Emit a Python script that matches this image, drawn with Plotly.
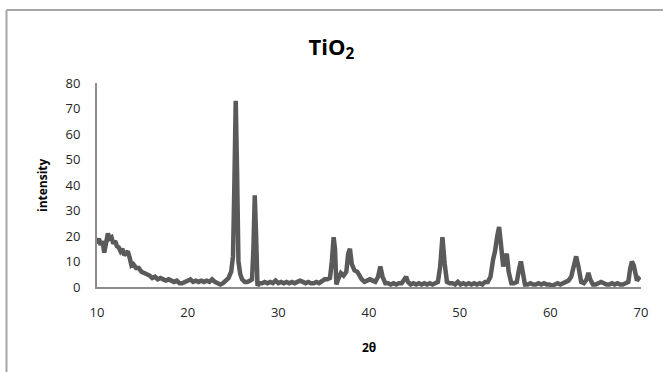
import plotly.graph_objects as go

two_theta = [10.0, 10.2, 10.4, 10.6, 10.8, 11.0, 11.2, 11.4, 11.6, 11.8, 12.0, 12.2, 12.4, 12.6, 12.8, 13.0, 13.2, 13.4, 13.6, 13.8,
             14.0, 14.3, 14.6, 14.9, 15.2, 15.5, 15.8, 16.1, 16.4, 16.7, 17.0, 17.3, 17.6, 17.9, 18.2, 18.5, 18.8, 19.1, 19.4, 19.7,
             20.0, 20.3, 20.6, 20.9, 21.2, 21.5, 21.8, 22.1, 22.4, 22.7, 23.0, 23.3, 23.6, 23.9, 24.2, 24.5, 24.8, 25.0, 25.15, 25.3,
             25.45, 25.6, 25.8, 26.0, 26.3, 26.6, 26.9, 27.1, 27.25, 27.4, 27.55, 27.7, 27.9, 28.2, 28.5, 28.8, 29.1, 29.4, 29.7, 30.0,
             30.3, 30.6, 30.9, 31.2, 31.5, 31.8, 32.1, 32.4, 32.7, 33.0, 33.3, 33.6, 33.9, 34.2, 34.5, 34.8, 35.1, 35.4, 35.7, 35.9,
             36.1, 36.25, 36.4, 36.6, 36.9, 37.2, 37.5, 37.7, 37.9, 38.1, 38.4, 38.7, 38.9, 39.2, 39.5, 39.8, 40.1, 40.4, 40.7, 41.0,
             41.25, 41.5, 41.8, 42.1, 42.4, 42.7, 43.0, 43.3, 43.6, 43.9, 44.1, 44.3, 44.6, 44.9, 45.2, 45.5, 45.8, 46.1, 46.4, 46.7,
             47.0, 47.3, 47.6, 47.85, 48.1, 48.35, 48.6, 48.9, 49.2, 49.5, 49.8, 50.1, 50.4, 50.7, 51.0, 51.3, 51.6, 51.9, 52.2, 52.5,
             52.8, 53.1, 53.4, 53.7, 53.9, 54.15, 54.35, 54.55, 54.8, 55.0, 55.2, 55.4, 55.7, 56.0, 56.3, 56.55, 56.75, 56.95, 57.2, 57.5,
             57.8, 58.1, 58.4, 58.7, 59.0, 59.3, 59.6, 59.9, 60.2, 60.5, 60.8, 61.1, 61.4, 61.7, 62.0, 62.3, 62.6, 62.85, 63.1, 63.4,
             63.7, 64.0, 64.2, 64.4, 64.7, 65.0, 65.3, 65.6, 65.9, 66.2, 66.5, 66.8, 67.1, 67.4, 67.7, 68.0, 68.3, 68.6, 68.8, 69.0,
             69.2, 69.4, 69.55, 69.75, 69.9]

intensity = [17, 19, 16.5, 18, 13.5, 17, 21, 19, 19.5, 17, 18, 16, 15.5, 14, 15, 12.5, 13, 14, 11.5, 8.5,
             9, 7.5, 7.5, 6, 5.5, 5, 4.5, 3.5, 4, 3, 3.5, 3, 2.5, 3, 2.5, 2, 2.5, 1.5, 1.5, 2,
             2.5, 3, 2, 2.5, 2, 2.5, 2, 2.5, 2, 3, 2, 1.5, 1, 1.5, 2.5, 3.5, 6, 12, 40, 73,
             45, 10, 5, 3, 2, 2, 2.5, 3, 15, 36, 20, 0.5, 1.5, 1.5, 2, 1.5, 2, 1.5, 2.5, 1.5,
             2, 1.5, 2, 1.5, 2, 1.5, 2, 2.5, 2, 1.5, 2, 1.5, 1.5, 2, 1.5, 2.5, 3, 3, 3.5, 10,
             19.5, 15, 1, 3, 5.5, 4.5, 6, 13, 15, 9, 6.5, 6, 4.5, 3, 2, 2.5, 3, 2.5, 2, 4,
             8, 4, 1.5, 1.5, 1, 1.5, 1, 1.5, 1.5, 3, 4, 2, 1, 1.5, 1, 1.5, 1, 1.5, 1, 1.5,
             1, 1.5, 2, 8, 19.5, 9, 2, 1.5, 1.5, 1, 2, 1, 1.5, 1, 1.5, 1, 1.5, 1, 1.5, 1,
             2, 2, 4, 11, 14, 20, 23.5, 17, 8, 11, 13, 6, 1.5, 1.5, 2, 7, 10, 6, 1, 1,
             1.5, 1, 1, 1.5, 1, 1.5, 1, 1, 0.5, 1, 1.5, 1, 1.5, 2, 2.5, 4, 9, 12, 8, 2,
             1.5, 3, 5.5, 3, 1, 1, 1.5, 2, 1.5, 1, 1, 1.5, 1, 1.5, 1, 1, 1.5, 2, 7, 10,
             8.5, 4, 2.5, 3.5, 4]

x_ticks = [10, 20, 30, 40, 50, 60, 70]
y_ticks = [0, 10, 20, 30, 40, 50, 60, 70, 80]

W, H = 663, 372
L, R, T, B = 97, 22, 83, 85
pw, ph = W - L - R, H - T - B

def px_x(px):
    return (px - L) / pw

def px_y(py):
    return (H - B - py) / ph

fig = go.Figure()
fig.add_trace(go.Scatter(
    x=two_theta, y=intensity, mode="lines",
    line=dict(color="#5a5a5a", width=4.5),
    showlegend=False, hoverinfo="skip",
))

tick_font = dict(family="Open Sans, Noto Sans, sans-serif", size=13, color="#262626")

fig.update_layout(
    width=W, height=H,
    margin=dict(l=L, r=R, t=T, b=B),
    paper_bgcolor="white", plot_bgcolor="white",
    title=dict(text="<b>TiO<sub>2</sub></b>", x=0.5, xanchor="center",
               y=1 - 47 / H, yanchor="middle",
               font=dict(family="Open Sans, Noto Sans, sans-serif", size=22, color="#000000")),
    xaxis=dict(range=[10, 70], tickvals=x_ticks, ticktext=[str(v) for v in x_ticks],
               showgrid=False, zeroline=False, showline=True, linecolor="#8c8c8c", linewidth=2,
               ticks="outside", ticklen=12, tickcolor="rgba(0,0,0,0)", tickfont=tick_font),
    yaxis=dict(range=[0, 80], tickvals=y_ticks, ticktext=[str(v) for v in y_ticks],
               showgrid=False, zeroline=False, showline=True, linecolor="#8c8c8c", linewidth=2,
               ticks="outside", ticklen=12, tickcolor="rgba(0,0,0,0)", tickfont=tick_font),
    annotations=[
        dict(text="<b>intensity</b>", xref="paper", yref="paper", x=px_x(42), y=0.5,
             textangle=-90, showarrow=False, xanchor="center", yanchor="middle",
             font=dict(family="Open Sans, Noto Sans, sans-serif", size=12, color="#000000")),
        dict(text="<b>2θ</b>", xref="paper", yref="paper", x=0.5, y=px_y(347),
             showarrow=False, xanchor="center", yanchor="middle",
             font=dict(family="Open Sans, Noto Sans, sans-serif", size=12, color="#000000")),
    ],
    shapes=[
        dict(type="line", xref="paper", yref="paper", x0=px_x(6.5), x1=px_x(663), y0=px_y(10), y1=px_y(10),
             line=dict(color="#a6a6a6", width=2)),
        dict(type="line", xref="paper", yref="paper", x0=px_x(6.5), x1=px_x(6.5), y0=px_y(10), y1=px_y(372),
             line=dict(color="#a6a6a6", width=2)),
    ],
)

fig.write_html("out.html", config={"displayModeBar": False},
               post_script="document.body.style.margin='0';document.body.style.overflow='hidden';")
